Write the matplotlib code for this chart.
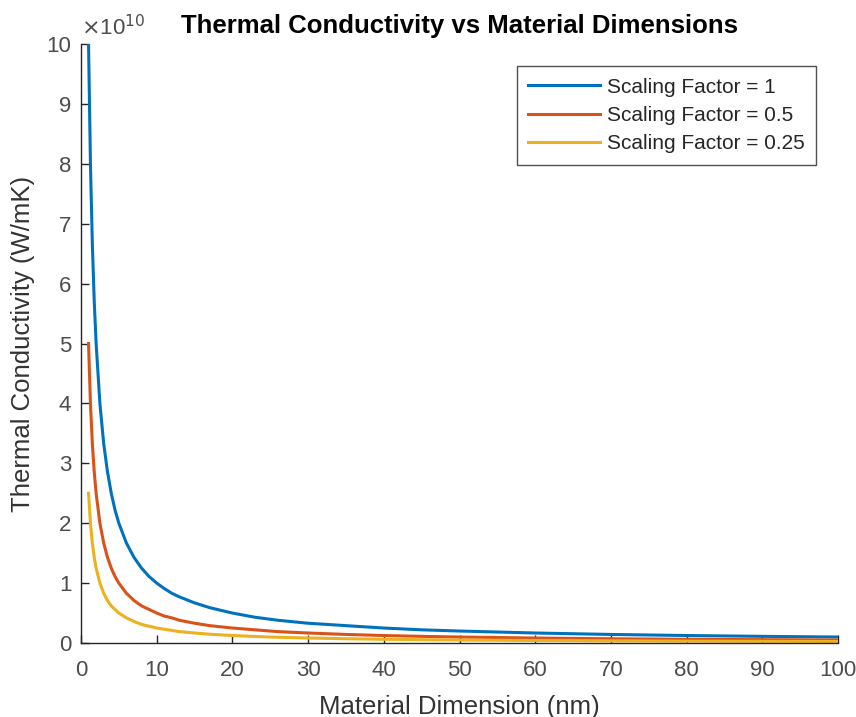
import matplotlib.pyplot as plt

plt.rcParams['font.family'] = ['Liberation Sans', 'DejaVu Sans']

# material dimension (nm)
dims = [1, 1.25, 1.5, 1.75, 2, 2.5, 3, 3.5, 4, 4.5, 5, 6, 7, 8, 9, 10, 11, 12, 13, 15,
        17, 20, 23, 26, 30, 35, 40, 45, 50, 60, 70, 80, 90, 100]

# thermal conductivity, units of 1e10 W/mK
k_s1 = [10, 8, 6.67, 5.71, 5, 4, 3.33, 2.86, 2.5, 2.22, 2, 1.67, 1.43, 1.25, 1.11, 1.0,
        0.91, 0.83, 0.77, 0.67, 0.59, 0.5, 0.43, 0.38, 0.33, 0.29, 0.25, 0.22, 0.2,
        0.167, 0.143, 0.125, 0.111, 0.1]
k_s05 = [5, 4, 3.33, 2.86, 2.5, 2, 1.67, 1.43, 1.25, 1.11, 1.0, 0.83, 0.71, 0.62, 0.56,
         0.5, 0.45, 0.42, 0.38, 0.33, 0.29, 0.25, 0.22, 0.19, 0.167, 0.143, 0.125,
         0.111, 0.1, 0.083, 0.071, 0.062, 0.056, 0.05]
k_s025 = [2.5, 2, 1.67, 1.43, 1.25, 1.0, 0.83, 0.71, 0.62, 0.56, 0.5, 0.42, 0.36, 0.31,
          0.28, 0.25, 0.23, 0.21, 0.19, 0.167, 0.147, 0.125, 0.109, 0.096, 0.083,
          0.071, 0.062, 0.056, 0.05, 0.042, 0.036, 0.031, 0.028, 0.025]

labels = ['Scaling Factor = 1', 'Scaling Factor = 0.5', 'Scaling Factor = 0.25']
colors = ['#0072BD', '#D95319', '#EDB120']

fig = plt.figure(figsize=(8.56, 7.17), dpi=100)
ax = fig.add_axes([0.0946, 0.1032, 0.8844, 0.8354])

for ys, lab, c in zip([k_s1, k_s05, k_s025], labels, colors):
    ax.plot(dims, ys, color=c, linewidth=2.2, label=lab)

ax.set_xlim(0, 100)
ax.set_ylim(0, 10)
ax.set_xticks(range(0, 101, 10))
ax.set_yticks(range(0, 11))
ax.spines['top'].set_visible(False)
ax.spines['right'].set_visible(False)
for s in ['left', 'bottom']:
    ax.spines[s].set_color('#262626')
    ax.spines[s].set_linewidth(1)
ax.tick_params(direction='in', length=6, width=1, colors='#262626', labelsize=16,
               labelcolor='#4d4d4d')
ax.tick_params(axis='x', pad=12)
ax.tick_params(axis='y', pad=7)

ax.text(0.0, 1.006, r'$\times$10$^{10}$', transform=ax.transAxes, fontsize=16,
        color='#4d4d4d', ha='left', va='bottom')

ax.set_xlabel('Material Dimension (nm)', fontsize=18.5, color='#333333', labelpad=10)
ax.set_ylabel('Thermal Conductivity (W/mK)', fontsize=18.5, color='#333333', labelpad=8)
ax.set_title('Thermal Conductivity vs Material Dimensions', fontsize=18.5,
             fontweight='bold', pad=8)

leg = ax.legend(loc='upper right', bbox_to_anchor=(0.971, 0.963), fontsize=15,
                frameon=True, fancybox=False, handlelength=3.45, handletextpad=0.33,
                borderpad=0.55, labelspacing=0.45, borderaxespad=0)
leg.get_frame().set_edgecolor('#262626')
leg.get_frame().set_linewidth(1)
for t in leg.get_texts():
    t.set_color('#262626')

fig.savefig('out.png', dpi=100)
